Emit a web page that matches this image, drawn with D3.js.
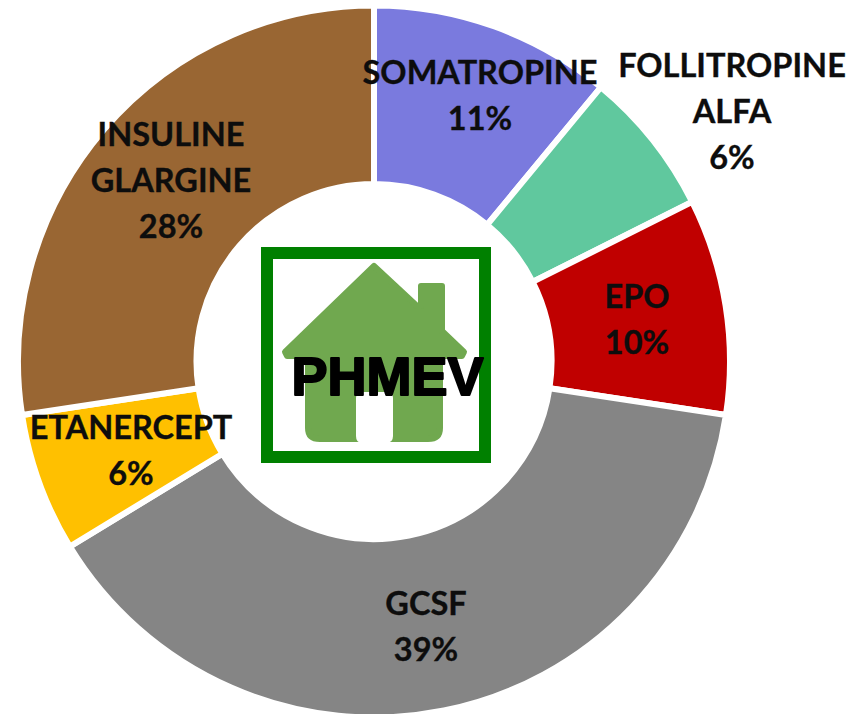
<!DOCTYPE html>
<html><head><meta charset="utf-8">
<script src="https://cdn.jsdelivr.net/npm/d3@7"></script>
<style>html,body{margin:0;background:#fff}svg{display:block}</style></head>
<body><svg id="c" width="863" height="714"></svg>
<script>
const categories = ["SOMATROPINE","FOLLITROPINE ALFA","EPO","GCSF","ETANERCEPT","INSULINE GLARGINE"];
const sliceShares = [11,6.6,9.8,38.9,6.3,27.4];
const percentLabels = ["11%","6%","10%","39%","6%","28%"];
const labelLines = [["SOMATROPINE"],["FOLLITROPINE","ALFA"],["EPO"],["GCSF"],["ETANERCEPT"],["INSULINE","GLARGINE"]];
const colors = ["#7a7ade","#60c89e","#c00000","#858585","#ffc000","#996633"];
// label centre, in page pixels, of each block of text
const labelAnchors = [[480,96],[732,112],[637,320],[426,627],[131,451],[171,181]];
const lineStep = 46;
const cx = 374, cy = 361.5, R = 356, r = 177.5;

const svg = d3.select("#c");
const pie = d3.pie().sort(null).value(d=>d)(sliceShares);
const arc = d3.arc().innerRadius(r).outerRadius(R);
svg.append("g").attr("transform",`translate(${cx},${cy})`)
  .selectAll("path").data(pie).join("path")
  .attr("d",arc).attr("fill",(d,i)=>colors[i])
  .attr("stroke","#fff").attr("stroke-width",6).attr("stroke-linejoin","miter");

// logo
svg.append("rect").attr("x",267).attr("y",253).attr("width",218).attr("height",204)
  .attr("fill","#fff").attr("stroke","#008000").attr("stroke-width",12);
const house = svg.append("g");
house.append("path").attr("fill","#70a84f").attr("stroke","#70a84f").attr("stroke-width",6).attr("stroke-linejoin","round")
  .attr("d","M374 266 L417 306 L421 306 L421 286 L442 286 L442 331 L464 352 L462 356 L440 356 L440 428 Q440 439 428 439 L320 439 Q308 439 308 428 L308 356 L287 356 L285 352 Z");
house.append("path").attr("fill","#fff")
  .attr("d","M356 398 Q356 392 362 392 L387 392 Q393 392 393 398 L393 436 Q393 443 386 443 L362 443 Q356 443 356 436 Z");
svg.append("text").attr("x",387.5).attr("y",395).attr("text-anchor","middle")
  .attr("font-family","Liberation Sans").attr("font-weight",700).attr("font-size",54)
  .attr("stroke","#000").attr("stroke-width",2).attr("stroke-linejoin","round").attr("fill","#000").text("PHMEV");

// labels
const labels = svg.append("g").attr("font-family","Lato").attr("font-weight",700).attr("font-size",32.5)
  .attr("fill","#0d0d0d").attr("stroke","#0d0d0d").attr("stroke-width",0.35).attr("text-anchor","middle");
categories.forEach((c,i)=>{
  const lines = [...labelLines[i], percentLabels[i]];
  const [x,y] = labelAnchors[i];
  lines.forEach((t,j)=>{
    labels.append("text").attr("x",x).attr("y",y + (j-(lines.length-1)/2)*lineStep).attr("dy","0.35em").text(t);
  });
});
</script></body></html>
